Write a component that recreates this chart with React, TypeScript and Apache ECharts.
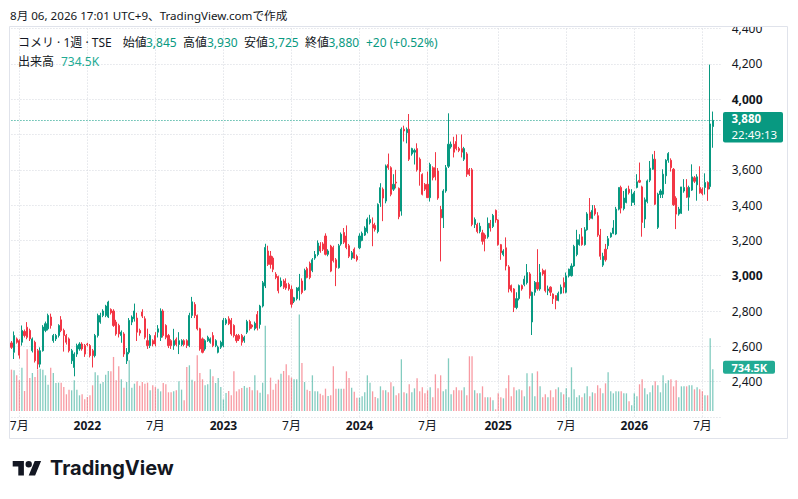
import React, { useEffect, useRef } from "react";
import * as echarts from "echarts";

// ---- data (weekly bars, first bar = week of 2021-06-14) ----
const START_UTC = Date.UTC(2021, 5, 14);
const PAD_WEEKS = 3;

const opens = [
  2619, 2566, 2642, 2632, 2623, 2684, 2708, 2690, 2575, 2623,
  2575, 2499, 2575, 2690, 2699, 2766, 2632, 2642, 2661, 2750,
  2690, 2661, 2642, 2518, 2480, 2556, 2585, 2613, 2604, 2613,
  2604, 2575, 2547, 2661, 2737, 2775, 2775, 2766, 2809, 2800,
  2737, 2718, 2661, 2670, 2518, 2566, 2737, 2756, 2760, 2690,
  2794, 2756, 2632, 2604, 2632, 2661, 2680, 2650, 2800, 2718,
  2661, 2632, 2604, 2640, 2610, 2610, 2632, 2632, 2604, 2775,
  2837, 2775, 2699, 2642, 2585, 2632, 2623, 2661, 2604, 2566,
  2595, 2604, 2730, 2756, 2747, 2718, 2661, 2661, 2661, 2632,
  2680, 2740, 2720, 2700, 2780, 2724, 2828, 2942, 3140, 3112,
  3100, 3008, 2995, 2942, 2970, 2955, 2950, 2923, 2855, 2870,
  2915, 2970, 2920, 3040, 3070, 3030, 3100, 3120, 3168, 3180,
  3225, 3121, 3168, 3160, 3090, 3045, 3180, 3245, 3225, 3170,
  3100, 3150, 3110, 3158, 3200, 3230, 3250, 3300, 3290, 3285,
  3250, 3413, 3490, 3423, 3630, 3612, 3490, 3530, 3495, 3366,
  3830, 3810, 3830, 3690, 3700, 3720, 3660, 3574, 3517, 3518,
  3442, 3612, 3612, 3593, 3375, 3328, 3480, 3620, 3730, 3745,
  3760, 3720, 3720, 3660, 3690, 3600, 3600, 3290, 3290, 3250,
  3243, 3230, 3220, 3297, 3279, 3370, 3316, 3176, 3120, 3158,
  3050, 2944, 2925, 2820, 2870, 2944, 2950, 2960, 3010, 2738,
  2906, 2962, 2925, 3030, 3028, 2915, 2935, 2896, 2887, 2860,
  2900, 2962, 2906, 2999, 3000, 3055, 3120, 3176, 3220, 3176,
  3260, 3360, 3325, 3380, 3340, 3230, 3060, 3150, 3170, 3220,
  3240, 3236, 3377, 3500, 3380, 3415, 3490, 3415, 3415, 3500,
  3540, 3503, 3321, 3420, 3541, 3603, 3660, 3274, 3460, 3462,
  3566, 3654, 3654, 3603, 3439, 3349, 3354, 3480, 3500, 3445,
  3485, 3555, 3515, 3500, 3490, 3500, 3528, 3505, 3845,
];
const highs = [
  2630, 2684, 2650, 2640, 2718, 2695, 2737, 2700, 2650, 2632,
  2585, 2594, 2720, 2740, 2785, 2785, 2670, 2670, 2725, 2771,
  2700, 2670, 2650, 2585, 2566, 2615, 2623, 2623, 2613, 2620,
  2613, 2585, 2670, 2785, 2790, 2810, 2835, 2858, 2815, 2810,
  2750, 2728, 2690, 2680, 2590, 2760, 2775, 2842, 2790, 2700,
  2810, 2770, 2700, 2670, 2640, 2680, 2720, 2815, 2810, 2725,
  2670, 2640, 2699, 2650, 2680, 2640, 2640, 2640, 2790, 2880,
  2850, 2780, 2705, 2650, 2640, 2660, 2650, 2680, 2640, 2604,
  2632, 2760, 2760, 2770, 2760, 2725, 2670, 2670, 2670, 2660,
  2750, 2750, 2725, 2740, 2800, 2835, 2970, 3181, 3170, 3140,
  3110, 3020, 3000, 2990, 2980, 2985, 2960, 2945, 2880, 2935,
  3010, 2985, 3040, 3050, 3080, 3100, 3140, 3200, 3190, 3190,
  3240, 3150, 3175, 3170, 3100, 3180, 3245, 3270, 3285, 3180,
  3140, 3160, 3120, 3240, 3250, 3280, 3330, 3345, 3330, 3300,
  3410, 3524, 3500, 3630, 3692, 3620, 3575, 3600, 3500, 3840,
  3850, 3840, 3916, 3725, 3720, 3750, 3670, 3580, 3525, 3590,
  3640, 3620, 3700, 3610, 3395, 3490, 3627, 3920, 3760, 3787,
  3800, 3730, 3800, 3730, 3700, 3610, 3610, 3330, 3300, 3300,
  3260, 3240, 3330, 3316, 3350, 3375, 3320, 3180, 3150, 3217,
  3060, 2950, 2930, 2906, 2950, 2950, 3000, 3066, 3020, 2910,
  2970, 3150, 3066, 3040, 3035, 2944, 2940, 2900, 2890, 2910,
  2950, 2990, 3018, 3040, 3070, 3175, 3260, 3235, 3270, 3275,
  3360, 3440, 3400, 3400, 3360, 3265, 3130, 3180, 3225, 3245,
  3315, 3390, 3500, 3510, 3480, 3495, 3510, 3490, 3480, 3575,
  3641, 3510, 3443, 3545, 3650, 3688, 3707, 3470, 3490, 3603,
  3660, 3700, 3665, 3610, 3450, 3390, 3503, 3547, 3547, 3510,
  3631, 3565, 3575, 3620, 3500, 3580, 3535, 4196, 3930,
];
const lows = [
  2585, 2528, 2615, 2530, 2604, 2650, 2640, 2630, 2565, 2508,
  2470, 2480, 2570, 2680, 2690, 2700, 2620, 2630, 2650, 2680,
  2570, 2610, 2565, 2500, 2430, 2540, 2575, 2575, 2540, 2600,
  2537, 2480, 2537, 2650, 2728, 2765, 2765, 2760, 2780, 2710,
  2660, 2650, 2620, 2540, 2500, 2555, 2720, 2740, 2630, 2660,
  2760, 2640, 2585, 2590, 2600, 2600, 2650, 2630, 2650, 2640,
  2590, 2585, 2580, 2600, 2556, 2600, 2600, 2590, 2595, 2760,
  2760, 2690, 2575, 2560, 2575, 2625, 2615, 2595, 2595, 2560,
  2585, 2595, 2720, 2720, 2660, 2650, 2620, 2630, 2604, 2620,
  2670, 2690, 2700, 2690, 2690, 2700, 2820, 2930, 3055, 3040,
  3020, 2980, 2900, 2935, 2925, 2920, 2915, 2819, 2845, 2860,
  2860, 2895, 2915, 2985, 2980, 3020, 3090, 3110, 3130, 3140,
  3115, 3110, 3020, 3075, 2941, 3040, 3170, 3180, 3150, 3100,
  3090, 3095, 3080, 3150, 3195, 3225, 3240, 3290, 3167, 3250,
  3240, 3390, 3309, 3410, 3600, 3450, 3480, 3495, 3320, 3340,
  3760, 3750, 3650, 3680, 3630, 3590, 3510, 3455, 3480, 3440,
  3420, 3540, 3540, 3430, 3081, 3270, 3470, 3610, 3720, 3670,
  3710, 3700, 3670, 3650, 3560, 3565, 3280, 3270, 3240, 3240,
  3176, 3138, 3210, 3250, 3270, 3300, 3170, 3090, 3110, 3030,
  2905, 2905, 2794, 2810, 2860, 2915, 2940, 2950, 2870, 2664,
  2887, 2915, 2915, 3000, 2905, 2890, 2885, 2840, 2810, 2855,
  2895, 2900, 2900, 2990, 2995, 3050, 3110, 3170, 3170, 3170,
  3255, 3315, 3320, 3340, 3220, 3090, 3050, 3080, 3150, 3215,
  3235, 3230, 3370, 3353, 3370, 3410, 3460, 3395, 3400, 3495,
  3525, 3221, 3270, 3410, 3530, 3600, 3400, 3265, 3440, 3440,
  3520, 3640, 3590, 3395, 3264, 3340, 3350, 3470, 3440, 3368,
  3480, 3525, 3425, 3465, 3455, 3460, 3424, 3490, 3725,
];
const closes = [
  2594, 2661, 2623, 2550, 2690, 2661, 2651, 2642, 2642, 2518,
  2499, 2575, 2709, 2728, 2775, 2718, 2661, 2661, 2718, 2690,
  2661, 2623, 2575, 2575, 2556, 2604, 2613, 2585, 2556, 2610,
  2547, 2547, 2661, 2775, 2775, 2800, 2828, 2851, 2790, 2718,
  2670, 2670, 2680, 2556, 2566, 2747, 2766, 2800, 2680, 2675,
  2771, 2651, 2604, 2661, 2613, 2613, 2699, 2800, 2661, 2651,
  2604, 2604, 2632, 2610, 2632, 2632, 2610, 2604, 2775, 2852,
  2775, 2699, 2585, 2566, 2632, 2651, 2642, 2604, 2632, 2595,
  2623, 2747, 2750, 2728, 2670, 2661, 2632, 2642, 2623, 2651,
  2740, 2700, 2710, 2730, 2704, 2828, 2960, 3160, 3064, 3064,
  3036, 2990, 2915, 2970, 2935, 2930, 2925, 2838, 2875, 2930,
  2935, 2905, 3030, 2990, 2990, 3090, 3120, 3185, 3140, 3150,
  3121, 3140, 3026, 3085, 3045, 3170, 3235, 3190, 3160, 3110,
  3130, 3100, 3090, 3225, 3240, 3270, 3320, 3318, 3270, 3262,
  3404, 3499, 3440, 3622, 3612, 3461, 3518, 3525, 3334, 3830,
  3820, 3830, 3660, 3720, 3710, 3600, 3590, 3461, 3490, 3442,
  3630, 3555, 3560, 3440, 3328, 3480, 3612, 3745, 3745, 3700,
  3720, 3710, 3700, 3720, 3575, 3575, 3290, 3318, 3250, 3280,
  3195, 3210, 3297, 3270, 3341, 3316, 3176, 3130, 3140, 3055,
  2925, 2915, 2820, 2870, 2944, 2925, 2980, 3018, 2887, 2906,
  2962, 2925, 3018, 3010, 2915, 2925, 2906, 2870, 2860, 2900,
  2935, 2935, 2999, 3037, 3055, 3166, 3204, 3204, 3176, 3260,
  3350, 3325, 3370, 3350, 3230, 3110, 3110, 3090, 3210, 3240,
  3270, 3377, 3500, 3383, 3440, 3490, 3470, 3462, 3470, 3532,
  3530, 3302, 3430, 3537, 3609, 3660, 3405, 3462, 3480, 3575,
  3654, 3692, 3612, 3402, 3349, 3377, 3503, 3500, 3445, 3500,
  3560, 3535, 3560, 3470, 3465, 3528, 3490, 3860, 3880,
];
// volume in thousands of shares
const volumesK = [
  728, 716, 628, 540, 763, 352, 1086, 581, 669, 599,
  728, 745, 728, 628, 464, 763, 669, 493, 499, 499,
  423, 294, 376, 364, 540, 376, 276, 294, 205, 246,
  276, 452, 681, 628, 481, 510, 640, 704, 698, 951,
  540, 787, 558, 411, 510, 892, 411, 481, 522, 446,
  510, 481, 499, 364, 452, 423, 393, 346, 493, 470,
  329, 329, 346, 364, 522, 376, 188, 775, 804, 552,
  522, 980, 669, 558, 452, 470, 734, 610, 493, 581,
  423, 205, 317, 352, 276, 698, 346, 381, 405, 440,
  411, 423, 364, 628, 364, 323, 499, 1500, 294, 587,
  376, 481, 552, 657, 704, 822, 628, 587, 558, 558,
  1700, 845, 510, 376, 352, 628, 346, 346, 305, 276,
  393, 264, 276, 787, 393, 393, 393, 393, 698, 581,
  411, 340, 235, 235, 258, 329, 628, 499, 346, 246,
  223, 434, 364, 364, 329, 505, 434, 276, 311, 910,
  329, 311, 470, 329, 399, 575, 346, 417, 311, 364,
  417, 241, 646, 399, 628, 346, 381, 927, 294, 364,
  417, 364, 364, 417, 276, 963, 963, 364, 311, 311,
  434, 241, 241, 241, 188, 29, 311, 241, 223, 399,
  628, 258, 417, 364, 381, 364, 258, 663, 434, 663,
  258, 698, 434, 241, 294, 241, 364, 241, 381, 417,
  329, 294, 399, 241, 769, 381, 241, 276, 241, 311,
  434, 258, 329, 311, 452, 399, 311, 487, 681, 346,
  311, 346, 346, 346, 311, 311, 170, 100, 311, 258,
  470, 558, 399, 294, 329, 452, 522, 452, 329, 628,
  487, 540, 558, 434, 540, 241, 434, 434, 434, 452,
  452, 381, 417, 381, 346, 276, 276, 1280, 734.5,
];

const PRICE_MIN = 2200;
const PRICE_MAX = 4400;
const PRICE_STEP = 200;
const VOL_MAX_K = 1760;

const SYMBOL_TEXT = "コメリ · 1週 · TSE";
const HEADER_TEXT = "8月 06, 2026 17:01 UTC+9、TradingView.comで作成";
const COUNTDOWN_TEXT = "22:49:13";

const FONT = "'Noto Sans', 'Noto Sans CJK JP', sans-serif";
const DARK = "#131722";
const UP = "#089981";
const DOWN = "#f23645";
const UP_VOL = "rgba(8,153,129,0.5)";
const DOWN_VOL = "rgba(242,54,69,0.5)";
const GRID_LINE = "#d5d8df";

echarts.graphic.registerShape(
  "tvlogo",
  echarts.graphic.extendPath(
    "M14 22H7V11H0V4h14v18zM28 22h-8l7.5-18h8L28 22zM24 8a4 4 0 1 1-8 0a4 4 0 1 1 8 0z",
    {}
  )
);

const fmt = (v: number) => v.toLocaleString("en-US");

export default function App() {
  const ref = useRef<HTMLDivElement>(null);

  useEffect(() => {
    const el = ref.current;
    if (!el) return;
    const chart = echarts.init(el, null, { renderer: "svg" });
    const n = closes.length;
    const lastC = closes[n - 1];

    const dates: string[] = [];
    const months: number[] = [];
    const years: number[] = [];
    for (let i = 0; i < n + PAD_WEEKS; i++) {
      const d = new Date(START_UTC + i * 7 * 86400000);
      dates.push(d.toISOString().slice(0, 10));
      months.push(d.getUTCMonth());
      years.push(d.getUTCFullYear());
    }
    const labelAt = new Set<number>();
    for (let i = 1; i < n; i++) {
      if (months[i] !== months[i - 1] && (months[i] === 0 || months[i] === 6)) labelAt.add(i);
    }

    const candle = closes.map((c, i) => [opens[i], c, lows[i], highs[i]]);
    const vol = volumesK.map((v, i) => ({
      value: v,
      itemStyle: { color: closes[i] >= opens[i] ? UP_VOL : DOWN_VOL },
    }));

    const left = 11.45;
    const right = 77.35;

    chart.setOption({
      animation: false,
      backgroundColor: "#ffffff",
      grid: [
        { left, right, top: 28.6, bottom: 82.1 },
        { left, right, top: 311, bottom: 88 },
      ],
      xAxis: [
        {
          type: "category",
          gridIndex: 0,
          data: dates,
          boundaryGap: false,
          axisLine: { show: false },
          axisTick: { show: false },
          axisLabel: {
            interval: (i: number) => labelAt.has(i),
            margin: 3,
            formatter: (_v: string, i: number) =>
              months[i] === 0 ? `{y|${years[i]}}` : `{m|${months[i] + 1}月}`,
            rich: {
              y: { fontFamily: FONT, fontSize: 12, fontWeight: "bold", color: DARK },
              m: { fontFamily: FONT, fontSize: 12, color: DARK },
            },
          },
          splitLine: {
            show: true,
            interval: (i: number) => labelAt.has(i),
            lineStyle: { color: GRID_LINE, type: [1, 2], width: 1 },
          },
        },
        {
          type: "category",
          gridIndex: 1,
          data: dates,
          boundaryGap: false,
          show: false,
        },
      ],
      yAxis: [
        {
          type: "value",
          gridIndex: 0,
          position: "right",
          min: PRICE_MIN,
          max: PRICE_MAX,
          interval: PRICE_STEP,
          axisLine: { show: false },
          axisTick: { show: false },
          axisLabel: {
            margin: 11,
            color: DARK,
            fontSize: 12,
            fontFamily: FONT,
            formatter: (v: number) => {
              if (v <= PRICE_MIN || Math.abs(v - lastC) < 100) return "";
              return v % 1000 === 0 ? `{b|${fmt(v)}}` : fmt(v);
            },
            rich: {
              b: { fontFamily: FONT, fontSize: 12, fontWeight: "bold", color: DARK },
            },
          },
          splitLine: { lineStyle: { color: GRID_LINE, type: [1, 2], width: 1 } },
        },
        { type: "value", gridIndex: 1, min: 0, max: VOL_MAX_K, show: false },
      ],
      series: [
        {
          type: "bar",
          xAxisIndex: 1,
          yAxisIndex: 1,
          data: vol,
          barWidth: 1.3,
          silent: true,
        },
        {
          type: "candlestick",
          xAxisIndex: 0,
          yAxisIndex: 0,
          data: candle,
          barWidth: 1.6,
          silent: true,
          itemStyle: {
            color: UP,
            color0: DOWN,
            borderColor: UP,
            borderColor0: DOWN,
            borderWidth: 1,
          },
          markLine: {
            silent: true,
            symbol: ["none", "none"],
            label: { show: false },
            lineStyle: { color: UP, type: [1, 2], width: 1 },
            data: [{ yAxis: lastC }],
          },
        },
      ],
    });

    const prevC = closes[n - 2];
    const chg = lastC - prevC;
    const pct = (chg / prevC) * 100;
    const py = chart.convertToPixel({ yAxisIndex: 0 }, lastC) as number;
    const vy = chart.convertToPixel({ yAxisIndex: 1 }, volumesK[n - 1]) as number;

    const t = (x: number, y: number, text: string, fill: string, extra: any = {}) => ({
      type: "text",
      x,
      y,
      z: 100,
      style: {
        text,
        fill,
        fontFamily: FONT,
        fontSize: 12,
        verticalAlign: "middle",
        textVerticalAlign: "middle",
        ...extra,
      },
    });

    const sign = chg >= 0 ? "+" : "";
    chart.setOption({
      graphic: [
        {
          type: "rect",
          z: 90,
          shape: { x: 721, y: 14, width: 66, height: 12.5 },
          style: { fill: "#ffffff" },
        },
        {
          type: "rect",
          z: 91,
          shape: { x: 9.5, y: 26.5, width: 778, height: 412 },
          style: { fill: "none", stroke: "#e0e3eb", lineWidth: 1 },
        },
        t(10, 15, HEADER_TEXT, DARK, { fontSize: 11.6 }),
        t(18, 42.3, SYMBOL_TEXT, DARK),
        t(122.7, 42.3, "始値", DARK),
        t(146, 42.3, fmt(opens[n - 1]), UP),
        t(183, 42.3, "高値", DARK),
        t(207, 42.3, fmt(highs[n - 1]), UP),
        t(244, 42.3, "安値", DARK),
        t(268, 42.3, fmt(lows[n - 1]), UP),
        t(305, 42.3, "終値", DARK),
        t(328.5, 42.3, fmt(lastC), UP),
        t(366, 42.3, `${sign}${chg} (${sign}${pct.toFixed(2)}%)`, UP),
        t(18, 61.7, "出来高", DARK),
        t(61, 61.7, `${volumesK[n - 1]}K`, "#22ab94"),
        {
          type: "rect",
          z: 100,
          shape: { x: 723, y: py - 8.5, width: 60, height: 30.5, r: 2 },
          style: { fill: UP },
        },
        t(731.5, py - 1.5, fmt(lastC), "#ffffff", { fontWeight: "bold", fontSize: 11.5, lineHeight: 12 }),
        t(731.5, py + 14.3, COUNTDOWN_TEXT, "#ffffff", { fontSize: 11.5, lineHeight: 12 }),
        {
          type: "rect",
          z: 100,
          shape: { x: 723, y: vy - 8.6, width: 52, height: 13, r: 2 },
          style: { fill: "#22ab94" },
        },
        t(731.5, vy - 2.2, `${volumesK[n - 1]}K`, "#ffffff", { fontWeight: "bold", fontSize: 11 }),
        {
          type: "tvlogo",
          z: 100,
          x: 12.7,
          y: 457.8,
          scaleX: 0.8,
          scaleY: 0.8,
          style: { fill: DARK },
        },
        {
          type: "text",
          z: 100,
          x: 50,
          y: 468,
          style: {
            text: "TradingView",
            fill: DARK,
            fontFamily: "Inter, 'Noto Sans', sans-serif",
            fontSize: 20,
            fontWeight: "bold",
            verticalAlign: "middle",
            textVerticalAlign: "middle",
          },
        },
      ],
    });

    return () => {
      chart.dispose();
    };
  }, []);

  return (
    <div
      ref={ref}
      style={{ position: "fixed", left: 0, top: 0, width: 798, height: 499, background: "#fff" }}
    />
  );
}
